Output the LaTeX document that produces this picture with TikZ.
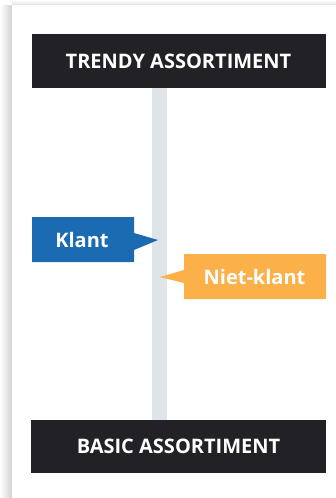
\documentclass[tikz,border=0pt]{standalone}
\usepackage{fontspec}
\setmainfont{Open Sans}
\definecolor{darkbar}{HTML}{222226}
\definecolor{klantblue}{HTML}{1B6BB3}
\definecolor{nietorange}{HTML}{FBB04A}
\definecolor{axisgray}{HTML}{DFE4E9}
\begin{document}
\begin{tikzpicture}[x=1pt,y=-1pt,
  bar/.style={fill=darkbar,draw=none},
  lbl/.style={text=white,font=\bfseries\fontsize{20}{24}\selectfont,inner sep=0pt},
]
\useasboundingbox (0,0) rectangle (336,498);
\fill[white] (0,0) rectangle (336,498);
% card shadow
\shade[left color=white,right color=black!18,shading angle=90] (0,5) rectangle (12,497);
\shade[top color=white,bottom color=black!12] (12,0) rectangle (336,5);
\fill[white] (12,5) rectangle (336,497);
% axis
\fill[axisgray] (152,88) rectangle (167,420);
% bars
\fill[bar] (32,34) rectangle (326,88);
\node[lbl] (top) at (178.5,61) {TRENDY ASSORTIMENT};
\fill[bar] (31,420) rectangle (326,473);
\node[lbl] (bottom) at (178.5,446.5) {BASIC ASSORTIMENT};
% Klant
\fill[klantblue] (32,217) rectangle (134,262) (134,233) -- (158,240) -- (134,250) -- cycle;
\node[lbl] (klant) at (82,240) {Klant};
% Niet-klant
\fill[nietorange] (184,254) rectangle (326,299) (184,270) -- (160,277) -- (184,283) -- cycle;
\node[lbl] (niet) at (254.5,277) {Niet-klant};
\end{tikzpicture}
\end{document}
